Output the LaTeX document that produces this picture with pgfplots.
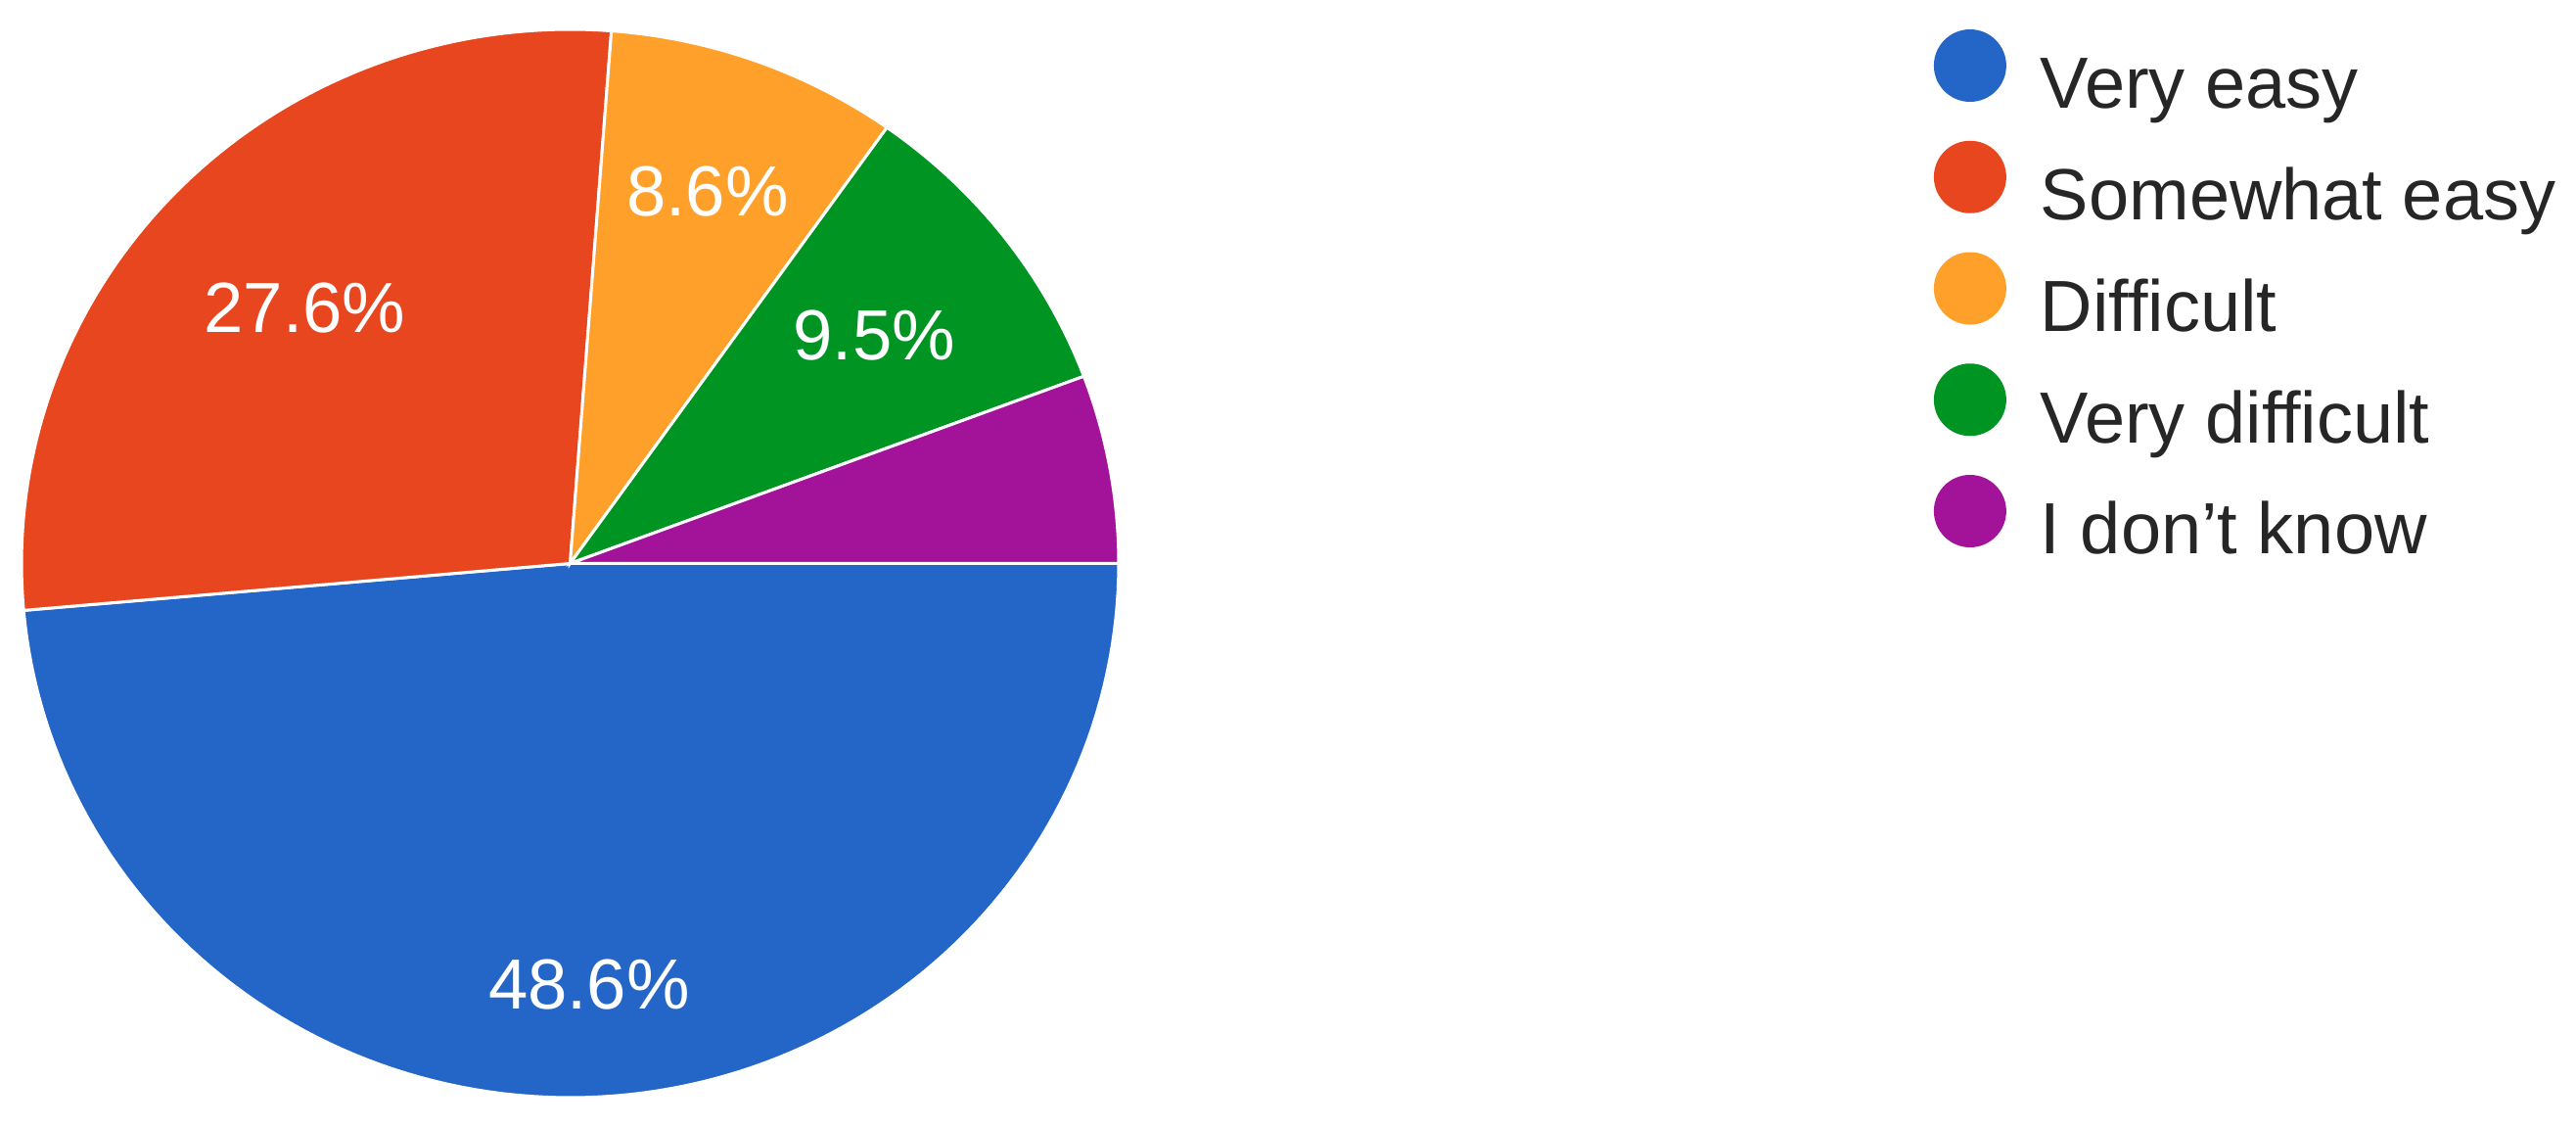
\documentclass[border=0pt]{standalone}
\usepackage{pgfplots}
\pgfplotsset{compat=1.18}
\usepackage{pgfplotstable}
\usepackage{fontspec}
\setmainfont{Liberation Sans}
\definecolor{cVE}{HTML}{2465C8}
\definecolor{cSE}{HTML}{E8461E}
\definecolor{cDI}{HTML}{FFA02A}
\definecolor{cVD}{HTML}{009523}
\definecolor{cDK}{HTML}{A2139A}
\definecolor{ctext}{HTML}{262626}
\pgfplotstableread{
label pct
VeryEasy 48.6
SomewhatEasy 27.6
Difficult 8.6
VeryDifficult 9.5
DontKnow 5.7
}\piedata
\pgfplotstablegetelem{0}{pct}\of\piedata \let\pA\pgfplotsretval
\pgfplotstablegetelem{1}{pct}\of\piedata \let\pB\pgfplotsretval
\pgfplotstablegetelem{2}{pct}\of\piedata \let\pC\pgfplotsretval
\pgfplotstablegetelem{3}{pct}\of\piedata \let\pD\pgfplotsretval
\pgfplotstablegetelem{4}{pct}\of\piedata \let\pE\pgfplotsretval
\pgfmathsetmacro{\aA}{0}
\pgfmathsetmacro{\aB}{\aA-3.6*\pA}
\pgfmathsetmacro{\aC}{\aB-3.6*\pB}
\pgfmathsetmacro{\aD}{\aC-3.6*\pC}
\pgfmathsetmacro{\aE}{\aD-3.6*\pD}
\pgfmathsetmacro{\aF}{\aE-3.6*\pE}
\pgfmathsetmacro{\mA}{(\aA+\aB)/2}
\pgfmathsetmacro{\mB}{(\aB+\aC)/2}
\pgfmathsetmacro{\mC}{(\aC+\aD)/2}
\pgfmathsetmacro{\mD}{(\aD+\aE)/2}
\newcommand{\lblfont}{\fontsize{14.5}{17}\selectfont}
\newcommand{\legfont}{\fontsize{14.8}{17}\selectfont}
\begin{document}
\begin{tikzpicture}
\useasboundingbox (-4.4pt,-5.8pt) rectangle (522pt,224.2pt);
\begin{axis}[
  at={(0,0)}, anchor=south west,
  scale only axis, width=224.2pt, height=218.2pt,
  xmin=-1, xmax=1, ymin=-1, ymax=1,
  hide axis, clip=false,
  legend style={at={(rel axis cs:1.743,1.0)}, anchor=north west,
    draw=none, fill=none, inner sep=0pt, outer sep=0pt,
    row sep=3.1pt, font=\legfont, text=ctext,
    nodes={inner sep=0pt, text height=11pt, text depth=3.5pt},
    /tikz/every odd column/.append style={column sep=7pt}},
  legend cell align=left,
  legend image code/.code={\fill[#1, draw=none] (7.4pt,5.0pt) circle (7.4pt);},
]
\addplot[fill=cVE, draw=white, line width=0.6pt, domain={\aB}:{\aA}, samples=120] ({cos(x)},{sin(x)}) -- (axis cs:0,0) -- cycle;
\addlegendentry{Very easy}
\addplot[fill=cSE, draw=white, line width=0.6pt, domain={\aC}:{\aB}, samples=80] ({cos(x)},{sin(x)}) -- (axis cs:0,0) -- cycle;
\addlegendentry{Somewhat easy}
\addplot[fill=cDI, draw=white, line width=0.6pt, domain={\aD}:{\aC}, samples=40] ({cos(x)},{sin(x)}) -- (axis cs:0,0) -- cycle;
\addlegendentry{Difficult}
\addplot[fill=cVD, draw=white, line width=0.6pt, domain={\aE}:{\aD}, samples=40] ({cos(x)},{sin(x)}) -- (axis cs:0,0) -- cycle;
\addlegendentry{Very difficult}
\addplot[fill=cDK, draw=white, line width=0.6pt, domain={\aF}:{\aE}, samples=30] ({cos(x)},{sin(x)}) -- (axis cs:0,0) -- cycle;
\addlegendentry{I don’t know}
\node[text=white, font=\lblfont] at (axis cs:{0.79*cos(\mA)},{0.79*sin(\mA)}) {\pA\%};
\node[text=white, font=\lblfont] at (axis cs:{0.68*cos(\mB)},{0.68*sin(\mB)}) {\pB\%};
\node[text=white, font=\lblfont] at (axis cs:{0.74*cos(\mC)},{0.74*sin(\mC)}) {\pC\%};
\node[text=white, font=\lblfont] at (axis cs:{0.70*cos(\mD)},{0.70*sin(\mD)}) {\pD\%};
\end{axis}
\end{tikzpicture}
\end{document}
